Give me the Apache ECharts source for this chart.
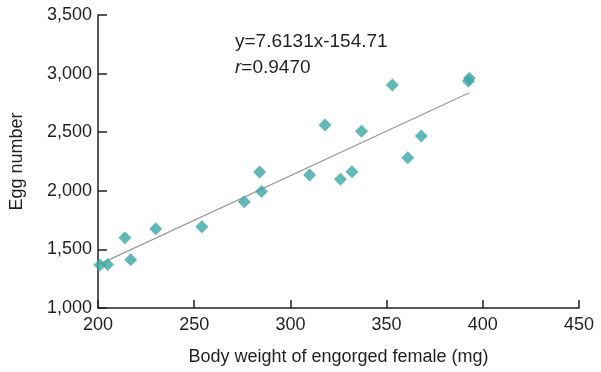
<!DOCTYPE html>
<html><head><meta charset="utf-8">
<script src="https://cdn.jsdelivr.net/npm/echarts@6/dist/echarts.min.js"></script>
<style>html,body{margin:0;padding:0;background:#fff}#c{width:601px;height:372px}</style>
</head><body><div id="c"></div>
<script>
const bodyWeight = [201, 205, 214, 217, 230, 254, 276, 284, 285, 310, 318, 326, 332, 337, 353, 361, 368, 393, 392.5];
const eggNumber  = [1367, 1371, 1600, 1412, 1677, 1694, 1907, 2160, 1995, 2135, 2561, 2098, 2163, 2508, 2903, 2283, 2468, 2960, 2935];
const fitLine = [[200, 1368], [393, 2837]];
const xTicks = [200, 250, 300, 350, 400, 450];
const yTicks = [1000, 1500, 2000, 2500, 3000, 3500];
const equationText = 'y=7.6131x-154.71';
const rText = '=0.9470';

const font = '"Liberation Sans", Arial, sans-serif';
const chart = echarts.init(document.getElementById('c'));
chart.setOption({
  animation: false,
  grid: {left: 95, right: 22, top: 15, bottom: 64},
  xAxis: {
    type: 'value', min: xTicks[0], max: xTicks[xTicks.length-1], interval: 50,
    name: 'Body weight of engorged female (mg)', nameLocation: 'middle', nameGap: 40,
    nameTextStyle: {fontFamily: font, fontSize: 18, color: '#231f20'},
    axisLine: {lineStyle: {color: '#231f20', width: 1.5}},
    axisTick: {inside: true, length: 8, lineStyle: {color: '#231f20', width: 1.5}},
    axisLabel: {fontFamily: font, fontSize: 18, color: '#231f20', margin: 8},
    splitLine: {show: false}
  },
  yAxis: {
    type: 'value', min: yTicks[0], max: yTicks[yTicks.length-1], interval: 500,
    name: 'Egg number', nameLocation: 'middle', nameGap: 72,
    nameTextStyle: {fontFamily: font, fontSize: 18, color: '#231f20'},
    axisLine: {show: true, lineStyle: {color: '#231f20', width: 1.5}},
    axisTick: {show: true, inside: true, length: 9, lineStyle: {color: '#231f20', width: 1.5}},
    axisLabel: {fontFamily: font, fontSize: 18, color: '#231f20', margin: 6,
      formatter: v => v.toLocaleString('en-US')},
    splitLine: {show: false}
  },
  graphic: [
    {type: 'text', left: 235, top: 32, style: {text: equationText, font: '19px ' + font, fill: '#231f20'}},
    {type: 'text', left: 235, top: 58, style: {
      text: '{i|r}' + rText,
      font: '19px ' + font, fill: '#231f20',
      rich: {i: {fontStyle: 'italic', fontFamily: font, fontSize: 19, fill: '#231f20'}}
    }}
  ],
  series: [
    {type: 'line', data: fitLine, symbol: 'none', lineStyle: {color: '#999', width: 1.2}, z: 1},
    {type: 'scatter', data: bodyWeight.map((x, i) => [x, eggNumber[i]]), symbol: 'diamond', symbolSize: 13,
      itemStyle: {color: '#3aa6a5'}, z: 2}
  ]
});
</script></body></html>
